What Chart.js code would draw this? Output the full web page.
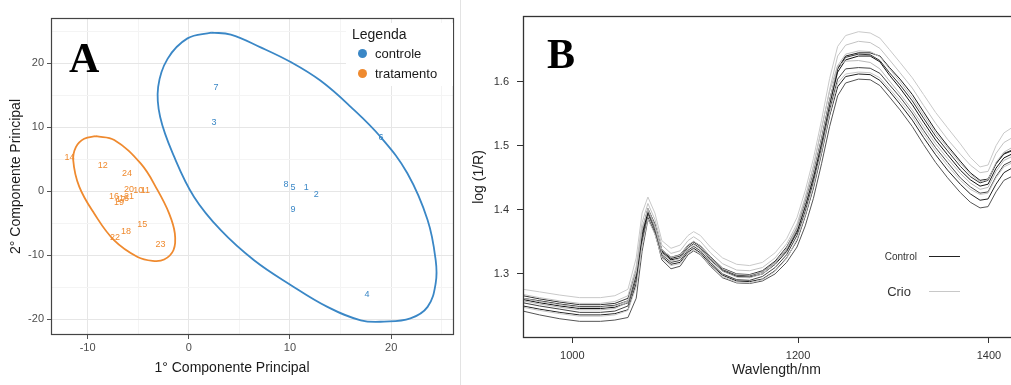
<!DOCTYPE html>
<html>
<head>
<meta charset="utf-8">
<script src="https://cdn.jsdelivr.net/npm/chart.js@4.4.1/dist/chart.umd.min.js"></script>
<style>
  body { margin: 0; width: 1011px; height: 385px; overflow: hidden; position: relative; background: #fff;
         font-family: "Liberation Sans", Arial, sans-serif; }
  #graficoA { position: absolute; left: 0; top: 0; }
  #graficoB { position: absolute; left: 462px; top: 0; }
  .separador { position: absolute; left: 460px; top: 0; width: 1px; height: 385px; background: #e3e3e3; }
  .letra { position: absolute; font-family: "Liberation Serif", "Times New Roman", serif; font-weight: bold;
           font-size: 42px; line-height: 42px; color: #000; }
  #tituloXA { position: absolute; left: 132px; top: 359px; width: 200px; text-align: center;
              font-size: 14px; line-height: 17px; color: #1a1a1a; }
  #legendaA { position: absolute; left: 346px; top: 23px; width: 107px; height: 63px; background: #fff; }
  #legendaA .titulo { position: absolute; left: 6px; top: 3px; font-size: 14px; line-height: 16px; color: #1a1a1a; }
  #legendaA .item { position: absolute; left: 29px; font-size: 13px; line-height: 15px; color: #1a1a1a; }
  #legendaA .bola { position: absolute; left: 12px; width: 9px; height: 9px; border-radius: 50%; }
  .legB { position: absolute; color: #333; text-align: right; }
  .linhaB { position: absolute; left: 929px; width: 31px; }
</style>
</head>
<body>
<canvas id="graficoA" width="460" height="385"></canvas>
<div class="separador"></div>
<canvas id="graficoB" width="578" height="385"></canvas>

<div class="letra" style="left:69px; top:37px;">A</div>
<div class="letra" style="left:547px; top:33px;">B</div>
<div id="tituloXA">1° Componente Principal</div>

<div id="legendaA">
  <div class="titulo">Legenda</div>
  <div class="bola" style="top:26px; background:#3a87c6;"></div>
  <div class="item" style="top:23px;">controle</div>
  <div class="bola" style="top:46px; background:#ef8a2f;"></div>
  <div class="item" style="top:43px;">tratamento</div>
</div>

<div class="legB" style="left:860px; top:251px; width:57px; font-size:10px; line-height:12px;">Control</div>
<div class="linhaB" style="top:256px; height:1px; background:#222;"></div>
<div class="legB" style="left:860px; top:284px; width:51px; font-size:13px; line-height:15px;">Crio</div>
<div class="linhaB" style="top:291px; height:1px; background:#c8c8c8;"></div>

<script>
// ---- painel A: escores da PCA ----
var controleIds = ['1', '2', '3', '4', '5', '6', '7', '8', '9'];
var controlePC1 = [11.6, 12.6, 2.5, 17.6, 10.3, 19.0, 2.7, 9.6, 10.3];
var controlePC2 = [0.5, -0.5, 10.8, -16.1, 0.5, 8.4, 16.2, 1.1, -2.9];

var tratIds = ['10', '11', '12', '13', '14', '15', '16', '17', '18', '19', '20', '21', '22', '23', '24'];
var tratPC1 = [-5.0, -4.3, -8.5, -6.4, -11.8, -4.6, -7.4, -6.7, -6.2, -6.9, -5.9, -5.9, -7.3, -2.8, -6.1];
var tratPC2 = [0.1, 0.1, 4.0, -1.1, 5.2, -5.2, -0.8, -1.3, -6.3, -1.8, 0.2, -0.9, -7.2, -8.3, 2.8];

// contornos das elipses
var elipseControleX = [2.24, 4.15, 7.1, 10.07, 13.0, 16.0, 19.0, 21.6, 23.6, 24.4, 24.4, 23.6, 21.9, 19.3, 17.0,
                       13.7, 10.1, 6.45, 3.16, 0.52, -1.45, -2.83, -3.03, -2.1, -0.13, 2.24];
var elipseControleY = [24.8, 24.5, 22.5, 20.2, 17.3, 13.2, 8.4, 2.8, -4.5, -10.8, -14.4, -18.1, -19.9, -20.4, -20.2,
                       -18.1, -14.7, -10.8, -6.1, -0.9, 5.4, 11.6, 16.3, 20.7, 23.9, 24.8];
var elipseTratX = [-9.18, -7.37, -4.74, -3.09, -1.94, -1.38, -1.51, -2.44, -3.58, -5.06, -7.37, -9.35, -10.83,
                   -11.42, -11.16, -10.34, -9.18];
var elipseTratY = [8.6, 8.0, 4.3, 0.16, -3.5, -6.6, -9.2, -10.7, -10.9, -10.3, -7.7, -3.5, 0.7, 4.8, 6.9, 8.2, 8.6];

// ---- painel B: espectros NIR ----
var wavelengths = [961, 974, 990, 1006, 1023, 1035, 1046, 1053, 1058, 1063, 1069, 1075, 1083, 1091, 1098, 1103,
                   1109, 1118, 1129, 1142, 1154, 1166, 1178, 1189, 1199, 1207, 1215, 1223, 1231, 1239, 1247, 1260,
                   1272, 1282, 1292, 1303, 1316, 1328, 1341, 1354, 1368, 1379, 1390, 1399, 1408, 1417, 1426];
var xTicksB = [1000, 1200, 1400];
var yTicksB = [1.3, 1.4, 1.5, 1.6];

var control1 = [1.260,1.255,1.250,1.246,1.246,1.248,1.255,1.298,1.361,1.397,1.372,1.334,1.322,1.325,1.341,1.347,1.340,1.322,1.305,1.296,1.295,1.300,1.315,1.335,1.365,1.405,1.450,1.504,1.564,1.615,1.634,1.640,1.640,1.631,1.610,1.590,1.564,1.537,1.509,1.486,1.462,1.447,1.437,1.440,1.465,1.481,1.487];
var control2 = [1.266,1.261,1.256,1.252,1.252,1.254,1.262,1.305,1.368,1.400,1.376,1.338,1.326,1.330,1.345,1.350,1.344,1.327,1.309,1.300,1.299,1.305,1.320,1.342,1.372,1.412,1.458,1.512,1.572,1.620,1.638,1.643,1.642,1.633,1.614,1.595,1.570,1.543,1.515,1.492,1.468,1.452,1.442,1.446,1.472,1.488,1.493];
var control3 = [1.250,1.245,1.240,1.236,1.236,1.238,1.244,1.285,1.350,1.388,1.363,1.327,1.315,1.318,1.334,1.340,1.333,1.315,1.298,1.289,1.288,1.292,1.305,1.325,1.352,1.390,1.434,1.488,1.547,1.592,1.608,1.612,1.611,1.602,1.585,1.565,1.540,1.513,1.486,1.462,1.440,1.425,1.415,1.417,1.440,1.458,1.465];
var control4 = [1.242,1.236,1.230,1.226,1.226,1.228,1.232,1.262,1.335,1.385,1.366,1.322,1.308,1.312,1.330,1.336,1.330,1.312,1.294,1.286,1.285,1.289,1.300,1.318,1.342,1.375,1.418,1.472,1.530,1.578,1.598,1.604,1.603,1.594,1.576,1.556,1.530,1.502,1.474,1.450,1.427,1.412,1.403,1.405,1.428,1.446,1.452];
var control5 = [1.262,1.258,1.253,1.249,1.249,1.251,1.258,1.302,1.366,1.402,1.378,1.336,1.324,1.328,1.344,1.350,1.343,1.325,1.307,1.298,1.297,1.303,1.318,1.338,1.368,1.408,1.454,1.508,1.568,1.620,1.640,1.645,1.645,1.640,1.622,1.604,1.580,1.553,1.524,1.500,1.476,1.458,1.446,1.448,1.472,1.487,1.492];
var control6 = [1.255,1.250,1.245,1.240,1.240,1.242,1.250,1.292,1.356,1.394,1.368,1.330,1.318,1.321,1.337,1.343,1.336,1.318,1.300,1.291,1.290,1.296,1.310,1.330,1.360,1.398,1.444,1.497,1.556,1.604,1.620,1.622,1.621,1.613,1.595,1.576,1.551,1.524,1.497,1.474,1.450,1.436,1.426,1.428,1.452,1.470,1.476];

var crio1 = [1.276,1.272,1.267,1.263,1.263,1.266,1.276,1.325,1.395,1.420,1.395,1.352,1.340,1.345,1.360,1.366,1.360,1.342,1.325,1.315,1.313,1.318,1.333,1.355,1.388,1.430,1.480,1.540,1.605,1.655,1.672,1.678,1.676,1.668,1.650,1.630,1.606,1.580,1.552,1.528,1.503,1.482,1.467,1.470,1.500,1.520,1.528];
var crio2 = [1.268,1.263,1.258,1.254,1.254,1.257,1.266,1.312,1.380,1.410,1.385,1.345,1.332,1.336,1.352,1.358,1.351,1.333,1.316,1.306,1.305,1.310,1.325,1.347,1.378,1.420,1.468,1.525,1.588,1.640,1.657,1.663,1.661,1.652,1.634,1.614,1.590,1.563,1.535,1.510,1.487,1.470,1.458,1.460,1.488,1.505,1.512];
var crio3 = [1.262,1.257,1.252,1.248,1.248,1.250,1.258,1.302,1.368,1.402,1.376,1.338,1.326,1.329,1.345,1.351,1.344,1.326,1.308,1.299,1.298,1.303,1.318,1.339,1.370,1.410,1.456,1.510,1.570,1.625,1.643,1.648,1.647,1.639,1.620,1.600,1.575,1.548,1.520,1.497,1.473,1.456,1.444,1.447,1.474,1.490,1.497];
var crio4 = [1.248,1.243,1.238,1.234,1.234,1.236,1.243,1.280,1.345,1.386,1.362,1.325,1.313,1.316,1.332,1.338,1.331,1.313,1.296,1.287,1.286,1.291,1.304,1.324,1.354,1.392,1.437,1.491,1.550,1.598,1.612,1.615,1.614,1.606,1.589,1.570,1.546,1.519,1.492,1.469,1.446,1.432,1.424,1.426,1.450,1.467,1.473];
var crio5 = [1.258,1.253,1.248,1.244,1.244,1.246,1.256,1.305,1.372,1.400,1.373,1.333,1.320,1.324,1.340,1.346,1.339,1.321,1.304,1.295,1.294,1.300,1.316,1.340,1.374,1.418,1.468,1.528,1.585,1.625,1.632,1.633,1.630,1.620,1.601,1.581,1.556,1.530,1.503,1.480,1.457,1.442,1.432,1.435,1.460,1.477,1.483];

var azul = '#3a87c6';
var laranja = '#ef8a2f';

Chart.defaults.font.family = '"Liberation Sans", Arial, sans-serif';

function pares(xs, ys) {
    return xs.map(function (x, i) {
        return {x: x, y: ys[i]};
    });
}

// desenha a moldura do painel
var molduraPlugin = {
    id: 'moldura',
    afterDraw: function (chart, args, opts) {
        var a = chart.chartArea;
        var ctx = chart.ctx;
        ctx.save();
        ctx.strokeStyle = opts.color;
        ctx.lineWidth = opts.width;
        ctx.strokeRect(a.left + 0.5, a.top + 0.5, a.right - a.left - 1, a.bottom - a.top - 1);
        ctx.restore();
    }
};

// numeros das amostras no lugar dos pontos
var rotulosPlugin = {
    id: 'rotulos',
    afterDatasetsDraw: function (chart) {
        var ctx = chart.ctx;
        chart.data.datasets.forEach(function (ds, i) {
            if (!ds.ids) return;
            var meta = chart.getDatasetMeta(i);
            ctx.save();
            ctx.font = '9px "Liberation Sans", Arial, sans-serif';
            ctx.fillStyle = ds.textColor;
            ctx.textAlign = 'center';
            ctx.textBaseline = 'middle';
            meta.data.forEach(function (pt, j) {
                ctx.fillText(ds.ids[j], pt.x, pt.y);
            });
            ctx.restore();
        });
    }
};

var corGrade = function (c) {
    if (!c.tick) return '#ececec';
    return c.tick.value % 10 === 0 ? '#e6e6e6' : '#f4f4f4';
};
var corTick = function (c) {
    if (!c.tick) return '#444';
    return c.tick.value % 10 === 0 ? '#555' : 'rgba(0,0,0,0)';
};
var rotuloDez = function (v) {
    return v % 10 === 0 ? v : '';
};

new Chart(document.getElementById('graficoA'), {
    type: 'scatter',
    data: {
        datasets: [
            {label: 'controle', data: pares(controlePC1, controlePC2), pointRadius: 0, ids: controleIds, textColor: azul},
            {label: 'tratamento', data: pares(tratPC1, tratPC2), pointRadius: 0, ids: tratIds, textColor: laranja},
            {data: pares(elipseControleX, elipseControleY), showLine: true, borderColor: azul, borderWidth: 1.8,
                pointRadius: 0, tension: 0.4, fill: false},
            {data: pares(elipseTratX, elipseTratY), showLine: true, borderColor: laranja, borderWidth: 1.8,
                pointRadius: 0, tension: 0.4, fill: false}
        ]
    },
    options: {
        responsive: false,
        animation: false,
        layout: {padding: {top: 18, right: 6, left: 0, bottom: 0}},
        plugins: {
            legend: {display: false},
            tooltip: {enabled: false},
            moldura: {color: '#444', width: 1.2}
        },
        scales: {
            x: {
                type: 'linear', min: -13.62, max: 26.21,
                afterFit: function (s) { s.height = 50; },
                border: {display: false},
                grid: {color: corGrade, tickColor: corTick, tickLength: 4, lineWidth: 1},
                ticks: {stepSize: 5, includeBounds: false, autoSkip: false, maxRotation: 0, padding: 2,
                    color: '#4d4d4d', font: {size: 11}, callback: rotuloDez}
            },
            y: {
                type: 'linear', min: -22.5, max: 27.09,
                afterFit: function (s) { s.width = 51; },
                border: {display: false},
                grid: {color: corGrade, tickColor: corTick, tickLength: 4, lineWidth: 1},
                ticks: {stepSize: 5, includeBounds: false, autoSkip: false, padding: 3,
                    color: '#4d4d4d', font: {size: 11}, callback: rotuloDez},
                title: {display: true, text: '2° Componente Principal', color: '#1a1a1a', font: {size: 14},
                    padding: {top: 8, bottom: 0}}
            }
        }
    },
    plugins: [molduraPlugin, rotulosPlugin]
});

var espectro = function (valores, cor) {
    return {
        data: pares(wavelengths, valores),
        borderColor: cor,
        borderWidth: 1,
        pointRadius: 0,
        tension: 0,
        fill: false
    };
};

new Chart(document.getElementById('graficoB'), {
    type: 'line',
    data: {
        datasets: [
            espectro(crio1, '#c9c9c9'),
            espectro(crio2, '#c2c2c2'),
            espectro(crio3, '#bdbdbd'),
            espectro(crio4, '#c6c6c6'),
            espectro(crio5, '#b8b8b8'),
            espectro(control1, '#111'),
            espectro(control2, '#333'),
            espectro(control3, '#222'),
            espectro(control4, '#555'),
            espectro(control5, '#1a1a1a'),
            espectro(control6, '#444')
        ]
    },
    options: {
        responsive: false,
        animation: false,
        layout: {padding: {top: 16, right: 10, left: 0, bottom: 0}},
        plugins: {
            legend: {display: false},
            tooltip: {enabled: false},
            moldura: {color: '#333', width: 1.3}
        },
        scales: {
            x: {
                type: 'logarithmic', min: 961.0, max: 1447.2,
                afterBuildTicks: function (s) {
                    s.ticks = xTicksB.map(function (v) { return {value: v}; });
                },
                afterFit: function (s) { s.height = 47; },
                border: {display: false},
                grid: {drawOnChartArea: false, tickLength: 5, tickColor: '#333'},
                ticks: {autoSkip: false, maxRotation: 0, padding: 6, color: '#333', font: {size: 11},
                    callback: function (v) { return String(v); }},
                title: {display: true, text: 'Wavlength/nm', color: '#222', font: {size: 14},
                    padding: {top: 0, bottom: 6}}
            },
            y: {
                type: 'linear', min: 1.2, max: 1.7025,
                afterBuildTicks: function (s) {
                    s.ticks = yTicksB.map(function (v) { return {value: v}; });
                },
                afterFit: function (s) { s.width = 61; },
                border: {display: false},
                grid: {drawOnChartArea: false, tickLength: 6, tickColor: '#333'},
                ticks: {autoSkip: false, padding: 8, color: '#333', font: {size: 11},
                    callback: function (v) { return v.toFixed(1); }},
                title: {display: true, text: 'log (1/R)', color: '#222', font: {size: 14},
                    padding: {top: 9, bottom: 0}}
            }
        }
    },
    plugins: [molduraPlugin]
});
</script>
</body>
</html>
